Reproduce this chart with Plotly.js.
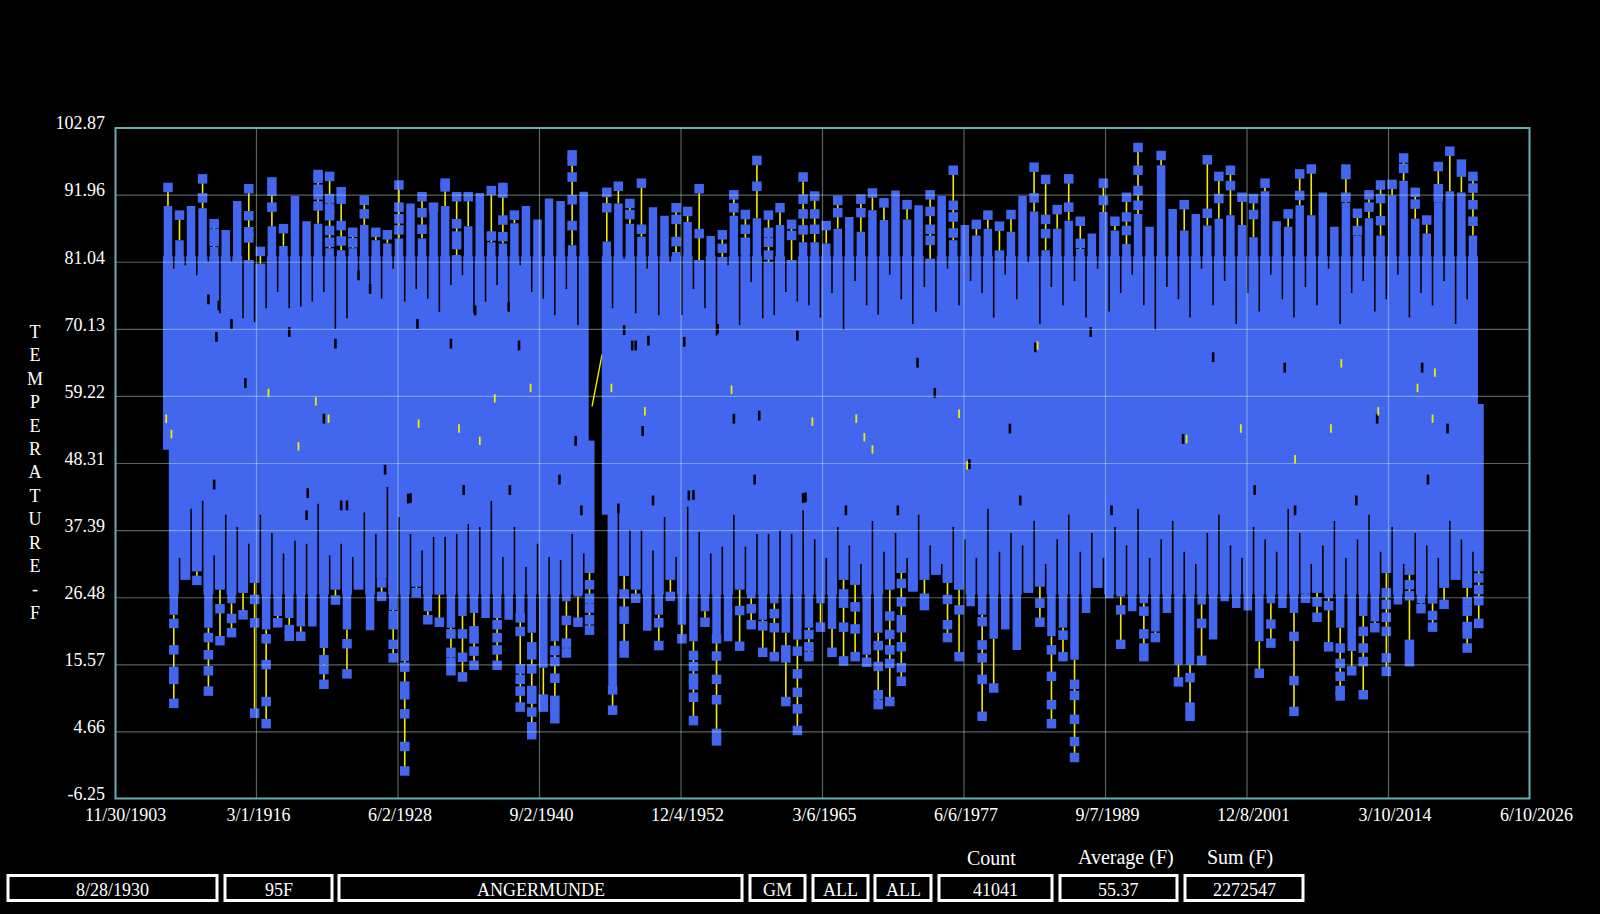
<!DOCTYPE html>
<html><head><meta charset="utf-8">
<script src="https://cdn.plot.ly/plotly-3.0.1.min.js"></script>
<style>html,body{margin:0;padding:0;background:#000}</style></head>
<body><div id="chart" style="width:1600px;height:914px"></div>
<script>
const xTickDates=['1903-11-30','1916-03-01','1928-06-02','1940-09-02','1952-12-04','1965-03-06','1977-06-06','1989-09-07','2001-12-08','2014-03-10','2026-06-10'];
const xTickText=['11/30/1903','3/1/1916','6/2/1928','9/2/1940','12/4/1952','3/6/1965','6/6/1977','9/7/1989','12/8/2001','3/10/2014','6/10/2026'];
const yTicks=[-6.25,4.66,15.57,26.48,37.39,48.31,59.22,70.13,81.04,91.96,102.87];
const yTickText=['-6.25','4.66','15.57','26.48','37.39','48.31','59.22','70.13','81.04','91.96','102.87'];

const summerYears=[1908,1909,1910,1911,1912,1913,1914,1915,1916,1917,
1918,1919,1920,1921,1922,1923,1924,1925,1926,1927,
1928,1929,1930,1931,1932,1933,1934,1935,1936,1937,
1938,1939,1940,1941,1942,1943,1944,
1946,1947,1948,1949,1950,1951,1952,1953,1954,1955,1956,1957,
1958,1959,1960,1961,1962,1963,1964,1965,1966,1967,
1968,1969,1970,1971,1972,1973,1974,1975,1976,1977,
1978,1979,1980,1981,1982,1983,1984,1985,1986,1987,
1988,1989,1990,1991,1992,1993,1994,1995,1996,1997,
1998,1999,2000,2001,2002,2003,2004,2005,2006,2007,
2008,2009,2010,2011,2012,2013,2014,2015,2016,2017,
2018,2019,2020,2021];
const summerTop=[90.2,84.6,90.2,89.8,83.5,86.3,91.0,81.4,80.8,86.9,
83.7,91.8,87.7,87.3,83.3,83.0,83.3,87.1,84.6,84.1,
84.9,90.6,84.9,89.3,90.2,82.2,86.9,92.3,84.3,84.1,
87.4,90.2,88.0,91.4,91.0,83.8,92.5,
84.4,90.6,87.3,85.2,90.0,88.6,82.7,87.6,81.4,85.3,81.9,88.6,
82.2,88.2,81.1,87.1,81.4,84.3,84.3,84.1,86.5,88.4,
86.0,89.5,87.9,92.7,88.0,90.3,81.6,91.8,84.6,87.1,
85.4,86.5,81.4,86.0,91.8,89.3,83.0,86.5,87.8,83.2,
85.7,89.2,86.2,84.0,88.9,86.8,96.8,89.7,86.2,88.9,
87.0,88.1,88.7,87.1,85.1,92.6,87.7,86.8,90.3,88.7,
92.4,86.8,90.7,85.4,88.2,85.4,91.9,94.3,88.1,85.7,
90.8,92.6,92.4,85.4];
const summerFoot=[50.6,33,41,42.3,33.4,40,38,35.3,40,37,
33.7,35.8,35.3,41.8,33.4,35.3,33.1,40.4,36.9,44.5,
39.6,36.9,34.2,36.4,36.4,36.9,38.5,38,42.3,33.1,
38,31.5,35.3,33.1,32.6,36.9,33.7,
40,41.5,37.5,37.5,34.2,39.6,33.1,41.3,37.2,33.7,34.8,40,
34.8,36.9,36.9,37.5,36.9,40.7,36,33,38,35,
32,39,34,37,33,40,35,32,38,36,
33,41,34,37,35,39,32,36,40,34,
37,33,38,35,41,33,36,39,34,32,
37,40,35,33,38,36,34,41,37,32,
35,39,33,36,40,34,38,32,37,35,
33,39,36,34];
const summerOutliers=[[93.2],[88.7],[],[94.6,91.5],[87.3,85.7,84.4],[],[],[93.0,88.6,86.0,85.0],[82.8],[94.1,92.6,90.0],
[86.5],[],[],[95.3,94.7,92.9,92.0,90.2],[95.0,91.4,89.8,88.6,86.2,84.3],[92.5,91.3,87.0,84.5],[85.9,84.2],[91.1,88.9],[85.9],[85.5],
[93.6,90.0,88.1,86.3],[],[91.7,89.1,86.4],[90.0],[93.9,93.3],[91.7,87.3,85.3,83.9],[91.7],[],[92.7,85.3],[93.2,92.3,87.9,85.2],
[88.7],[],[],[],[],[98.5,97.5,94.9,91.2,87.0],[],
[92.4,89.9],[93.4],[90.6,88.8],[93.9,86.4],[],[],[89.9,88.0,84.4],[89.3],[93.0,85.7],[],[85.5,83.3],[92.0,89.9],
[88.8,86.4,84.3,83.0],[97.6,93.4],[88.7,85.9,84.3,82.2],[89.9],[87.2,85.4],[94.9,91.3,88.9,86.3],[91.8,88.9,86.4],[87.0],[91.1,89.1],[],
[91.3,89.1],[92.3],[90.7],[],[90.4],[],[92.0,89.3,86.4,84.6],[],[96.0,90.3,88.4,85.8],[],
[87.2],[88.7],[86.9,82.2],[88.8],[],[96.5,91.5],[94.5,88.0,85.7],[89.6],[94.6,90.0],[87.7,84.1],
[],[93.9,91.1],[87.7],[91.6,88.4,86.2],[99.7,96.0,92.7,90.3],[],[98.4],[],[90.4],[],
[97.7,89.0],[95.0,91.4],[96.0,93.5],[91.6],[91.4,88.8],[93.9],[],[88.9],[95.4,91.9],[96.2],
[],[],[96.2,95.3,91.6],[89.0,86.2],[92.0,90.0],[93.6,91.4,87.8],[93.7],[98.0,96.3],[92.4,90.5],[87.9],
[96.6,93.0,91.6],[99.1],[97.0,95.7],[95.0,93.1,90.4,87.7]];

const winterYears=[1909,1910,1911,1912,1913,1914,1915,1916,1917,1918,
1919,1920,1921,1922,1923,1924,1925,1926,1927,1928,
1929,1930,1931,1932,1933,1934,1935,1936,1937,1938,
1939,1940,1941,1942,1943,1944,1945,
1947,1948,1949,1950,1951,1952,1953,1954,1955,1956,1957,1958,
1959,1960,1961,1962,1963,1964,1965,1966,1967,1968,
1969,1970,1971,1972,1973,1974,1975,1976,1977,1978,
1979,1980,1981,1982,1983,1984,1985,1986,1987,1988,
1989,1990,1991,1992,1993,1994,1995,1996,1997,1998,
1999,2000,2001,2002,2003,2004,2005,2006,2007,2008,
2009,2010,2011,2012,2013,2014,2015,2016,2017,2018,
2019,2020,2021,2022];
const winterBottom=[23.7,29.4,30.8,21.6,27.8,25.6,27.3,28.9,21.3,23.5,
23.2,21.8,21.8,18.3,27.8,21.3,27.8,21.2,29.7,24.5,
16.2,28.3,24.3,27.0,21.6,23.5,24.0,23.2,23.2,22.9,
23.7,20.8,15.1,19.4,25.9,26.7,30.5,
12.3,30.0,27.8,21.1,23.7,29.4,22.1,19.4,24.3,20.5,19.4,27.8,
26.4,22.9,25.6,20.8,19.7,21.6,25.6,21.4,29.4,28.6,
17.2,20.8,27.8,30.5,27.5,29.4,30.2,28.9,27.8,25.1,
23.7,19.8,21.3,18.0,27.3,28.3,20.2,21.6,16.4,24.0,
28.1,26.4,26.7,24.3,25.6,21.0,24.0,15.6,15.6,25.4,
19.7,25.9,24.8,24.4,19.4,25.6,24.8,24.0,27.2,27.3,
26.4,21.6,17.8,23.5,22.6,30.5,25.4,30.2,25.6,27.0,
28.1,29.4,28.1,30.8];
const winterHead=[80,80.5,78.9,81.1,72.7,81.1,71.9,71.3,73.5,76.2,
73.5,73.8,74.6,76.2,70.2,71.9,78.4,76.2,75.1,80,
74.6,76.7,75.1,72.9,77.3,78.9,72.7,74.6,77.3,73.5,
80.5,76.2,75.1,72.4,76.7,70.8,52,
73.5,81.6,72.7,80,72.4,81.1,72.4,76.7,73.5,69.1,80.5,70.8,
77.8,71.9,72.4,76.2,74.6,74,72,76,70,78,
74,72.5,79,75,71,77,73,80,74,78,
76,72,79,75,81,71,77,74,78,72,
80,73,76,79,74,70,77,75,72,80,
74,78,71,76,73,79,75,72,77,74,
80,71,76,78,73,75,79,72,76,74,
78,71,75,58];
const winterOutliers=[[22.3,18.0,14.5,13.2,9.3],[],[29.3],[20.0,17.2,14.6,11.3],[24.7,19.5],[23.1,20.8],[23.7],[26.2,22.4,7.7],[19.8,15.6,9.6,6.0],[22.4],
[21.3,20.2],[20.2],[],[16.4,14.8,12.4],[26.1],[19.0,14.1],[],[],[28.9,26.7],[23.6,22.1,18.9,16.7],
[15.2,12.1,10.7,7.6,2.3,-1.7],[27.3],[22.9],[22.5],[20.6,17.6,16.0,14.6],[20.6,16.8,13.6],[21.1,19.8,17.8,15.5],[],[22.1,20.0,18.0,15.5],[],
[23.2,21.0,14.9,13.2,11.3,8.7],[18.5,17.2,14.9,11.4,10.0,7.9,5.5,4.2],[10.0,8.7],[17.9,16.1,13.4,9.8,8.3,6.8],[22.8,19.1,17.5],[22.5],[28.6,26.4,24.8,22.9,21.2],
[11.5,8.2],[27.1,24.3,23.0,18.7,17.5],[26.4],[],[22.4,18.7],[26.7],[19.8],[17.1,15.3,13.4,12.3,10.3,6.5],[22.5],[19.8,17.0,13.2,9.9,4.4,3.2],[],[24.4,18.6],
[24.7,22.1],[21.9,17.6],[23.9,21.6,16.9],[18.0,16.7,9.6],[17.8,14.1,11.1,8.4,4.9],[20.5,18.5,16.9],[21.7],[17.6],[27.1,25.6,21.7,16.2],[25.0,21.4,16.9],
[16.0],[18.7,15.3,10.7,9.1],[23.5,20.5,18.0,15.8,9.6],[28.8,25.8,22.9,21.6,18.5,15.1,12.9],[],[26.4,25.2],[],[26.2,22.1,20.0],[24.5,16.9],[],
[22.6,18.8,16.7,13.2,7.2],[11.8],[],[],[],[25.6,22.5],[18.0,13.7,9.1,6.0],[20.4,16.9],[12.4,10.6,6.7,3.1,0.5],[],
[],[],[24.5,18.9],[],[24.3,20.6,18.3,16.9],[20.0],[],[12.8],[13.5,8.7,7.2],[22.3,16.3],
[],[],[],[],[14.2],[22.2,19.1],[],[20.2,13.0,8.0],[26.4],[25.8,23.3],
[25.2,18.5],[18.3,15.8,13.7,11.4,10.5],[14.6],[21.0,18.3,16.1,10.7],[21.6],[27.3,25.4,23.3,21.0,16.7,14.5],[],[28.6,26.8,18.9,17.4,16.1],[24.7],[26.3,23.6,21.7],
[25.4],[],[25.8,24.3,21.8,20.6,18.3],[29.7,27.8,26.0,22.3]];

const blackSpeckYears=[1915.2,1922.0,1927.3,1929.5,1942.4,1943.8,1949.6,1957.5,1959.7,1974.9,1981.4,1996.4,2006.1,2019.3,1977.9,1971.7,1963.5,1948.7,1973.4,1983.6,1999.0,1988.4,2005.2,2013.2,2017.1,1950.5,1934.1,1924.0,1920.5,1938.1,1944.3,1954.0,1959.3,1967.2,1982.3,1990.2,2002.6,2011.4,2017.6,1912.0,1912.9,1914.0,1919.0,1912.7,1923.0,1926.0,1925.0,1938.0,1935.1,1930.1,1933.0,1938.9,1949.0,1948.0,1950.1,1953.2,1956.1,1963.0,1912.5,1929.3,1947.5,1953.6,1963.7,1923.5,1920.6];
const blackSpeckTemps=[61.4,55.6,47.3,42.7,45.7,52.0,53.6,55.6,56.1,59.8,54.0,52.3,40.7,54.0,48.2,40.7,42.7,67.5,64.7,67.2,65.6,69.7,63.9,55.6,63.9,42.3,44.0,41.5,39.9,44.0,40.7,43.2,45.7,40.7,42.3,40.7,44.0,42.3,45.7,75.0,74.0,71.0,69.7,68.9,67.8,76.7,78.9,73.8,73.2,71.0,67.8,67.5,67.5,70.0,68.3,68.1,70.2,69.1,44.9,42.6,41.0,43.1,42.8,41.5,43.5];
const yellowSpeckYears=[1936.8,1908.35,1908.8,1917.2,1919.8,1921.3,1922.4,1930.2,1933.7,1935.5,1939.9,1949.8,1957.3,1964.3,1968.1,1968.8,1969.5,1977.0,1977.7,1983.8,1996.7,2009.2,2010.1,2016.7,2018.2,2018.0,2006.1,2001.4,2013.3,1946.9];
const yellowSpeckTemps=[58.9,55.6,53.1,59.8,51.1,58.4,55.6,54.8,54.0,52.0,60.6,56.8,60.3,55.1,55.6,52.6,50.6,56.4,48.0,67.5,52.3,54.0,64.6,60.6,63.1,55.6,49.0,54.0,56.8,60.6];
const gapLineYears=[1945.22,1946.09];
const gapLineTemps=[57.6,66.07];

const boxTexts=['8/28/1930','95F','ANGERMUNDE','GM','ALL','ALL','41041','55.37','2272547'];
const headerTexts=['Count','Average (F)','Sum (F)'];
const yTitle='T<br>E<br>M<br>P<br>E<br>R<br>A<br>T<br>U<br>R<br>E<br>-<br>F';

// layout geometry (page pixels)
const L=115,R=1530,T=127.5,B=799;
const boxEdges=[[8,217],[225,332],[339,742],[750,805],[813,868],[875,931],[939,1052],[1060,1177],[1185,1303]];
const boxTop=875.5,boxBottom=900.5,boxTextY=890;
const headerCentres=[991,1125.5,1240],headerY=858;
const px=p=>(p-L)/(R-L), py=p=>(B-p)/(B-T);

const FONT='"Liberation Serif","Times New Roman",serif';
const BLUE='#4267EE', YEL='#f2ea00', GRID='rgba(205,235,225,0.42)', FRAME='#67aeb0';
const shoulderHigh=82, shoulderLow=27;

function yearDate(y){const yr=Math.floor(y);const t=Date.UTC(yr,0,1)+(y-yr)*365.25*864e5;return new Date(t).toISOString().slice(0,10);}
const sx=summerYears.map(y=>y+'-07-01'), wx=winterYears.map(y=>y+'-01-01');

const tipX=[],tipY=[],colX=[],colY=[],stemX=[],stemY=[],dotX=[],dotY=[];
summerYears.forEach((y,i)=>{
  tipX.push(sx[i],sx[i],null);tipY.push(summerTop[i],summerFoot[i],null);
  colX.push(sx[i],sx[i],null);colY.push(Math.min(summerTop[i],shoulderHigh),summerFoot[i],null);
  const o=summerOutliers[i];
  if(o.length){stemX.push(sx[i],sx[i],null);stemY.push(Math.max(...o),summerTop[i],null);
    o.forEach(v=>{dotX.push(sx[i]);dotY.push(v);});}
});
winterYears.forEach((y,i)=>{
  tipX.push(wx[i],wx[i],null);tipY.push(winterHead[i],winterBottom[i],null);
  colX.push(wx[i],wx[i],null);colY.push(winterHead[i],Math.max(winterBottom[i],shoulderLow),null);
  const o=winterOutliers[i];
  if(o.length){stemX.push(wx[i],wx[i],null);stemY.push(Math.min(...o),winterBottom[i],null);
    o.forEach(v=>{dotX.push(wx[i]);dotY.push(v);});}
});

const traces=[
 {type:'scatter',mode:'lines',x:stemX,y:stemY,line:{color:YEL,width:1.6},hoverinfo:'skip',connectgaps:false},
 {type:'scatter',mode:'lines',x:gapLineYears.map(yearDate),y:gapLineTemps,line:{color:YEL,width:1.4},hoverinfo:'skip'},
 {type:'scatter',mode:'lines',x:tipX,y:tipY,line:{color:BLUE,width:8.5},hoverinfo:'skip',connectgaps:false},
 {type:'scatter',mode:'lines',x:colX,y:colY,line:{color:BLUE,width:10},hoverinfo:'skip',connectgaps:false},
 {type:'scatter',mode:'markers',x:dotX,y:dotY,marker:{color:BLUE,size:9.5,symbol:'square',line:{width:0}},hoverinfo:'skip'},
 {type:'scatter',mode:'markers',x:blackSpeckYears.map(yearDate),y:blackSpeckTemps,marker:{symbol:'line-ns',size:7,line:{color:'#000',width:2.6}},hoverinfo:'skip'},
 {type:'scatter',mode:'markers',x:yellowSpeckYears.map(yearDate),y:yellowSpeckTemps,marker:{symbol:'line-ns',size:6,line:{color:YEL,width:1.8}},hoverinfo:'skip'}
];

const shapes=[];
xTickDates.slice(1,-1).forEach(d=>shapes.push({type:'line',layer:'above',xref:'x',yref:'paper',x0:d,x1:d,y0:0,y1:1,line:{color:GRID,width:1.2}}));
yTicks.slice(1,-1).forEach(v=>shapes.push({type:'line',layer:'above',xref:'paper',yref:'y',x0:0,x1:1,y0:v,y1:v,line:{color:GRID,width:1.2}}));
shapes.push({type:'rect',layer:'above',xref:'paper',yref:'paper',x0:px(115.5),x1:px(1529.5),y0:py(798.5),y1:py(127.5),line:{color:FRAME,width:2},fillcolor:'rgba(0,0,0,0)'});
boxEdges.forEach(e=>shapes.push({type:'rect',xref:'paper',yref:'paper',x0:px(e[0]),x1:px(e[1]),y0:py(boxBottom),y1:py(boxTop),line:{color:'#fff',width:3},fillcolor:'rgba(0,0,0,0)'}));

const annFont={family:FONT,size:18,color:'#fff'};
const annotations=[
 {xref:'paper',yref:'paper',x:px(35),y:py(472.5),text:yTitle,showarrow:false,font:annFont,align:'center',xanchor:'center',yanchor:'middle'}
];
boxTexts.forEach((t,i)=>annotations.push({xref:'paper',yref:'paper',x:px((boxEdges[i][0]+boxEdges[i][1])/2),y:py(boxTextY),text:t,showarrow:false,font:annFont,xanchor:'center',yanchor:'middle'}));
headerTexts.forEach((t,i)=>annotations.push({xref:'paper',yref:'paper',x:px(headerCentres[i]),y:py(headerY),text:t,showarrow:false,font:{family:FONT,size:20,color:'#fff'},xanchor:'center',yanchor:'middle'}));

const layout={
 width:1600,height:914,autosize:false,showlegend:false,
 paper_bgcolor:'#000',plot_bgcolor:'#000',
 margin:{l:L,r:1600-R,t:T,b:914-B,pad:0},
 font:{family:FONT,size:18,color:'#fff'},
 xaxis:{type:'date',range:[xTickDates[0],xTickDates[10]],tickmode:'array',tickvals:xTickDates,ticktext:xTickText,
  showgrid:false,zeroline:false,showline:false,ticks:'',
  ticklabelposition:'outside right',ticklabelshift:-30,ticklabelstandoff:3,tickfont:{family:FONT,size:18,color:'#fff'},automargin:false},
 yaxis:{range:[-6.25,102.87],tickmode:'array',tickvals:yTicks,ticktext:yTickText,
  showgrid:false,zeroline:false,showline:false,ticks:'',
  ticklabelshift:-5,ticklabelstandoff:9,tickfont:{family:FONT,size:18,color:'#fff'},automargin:false},
 shapes,annotations
};
Plotly.newPlot('chart',traces,layout,{staticPlot:true,displayModeBar:false});
</script></body></html>
